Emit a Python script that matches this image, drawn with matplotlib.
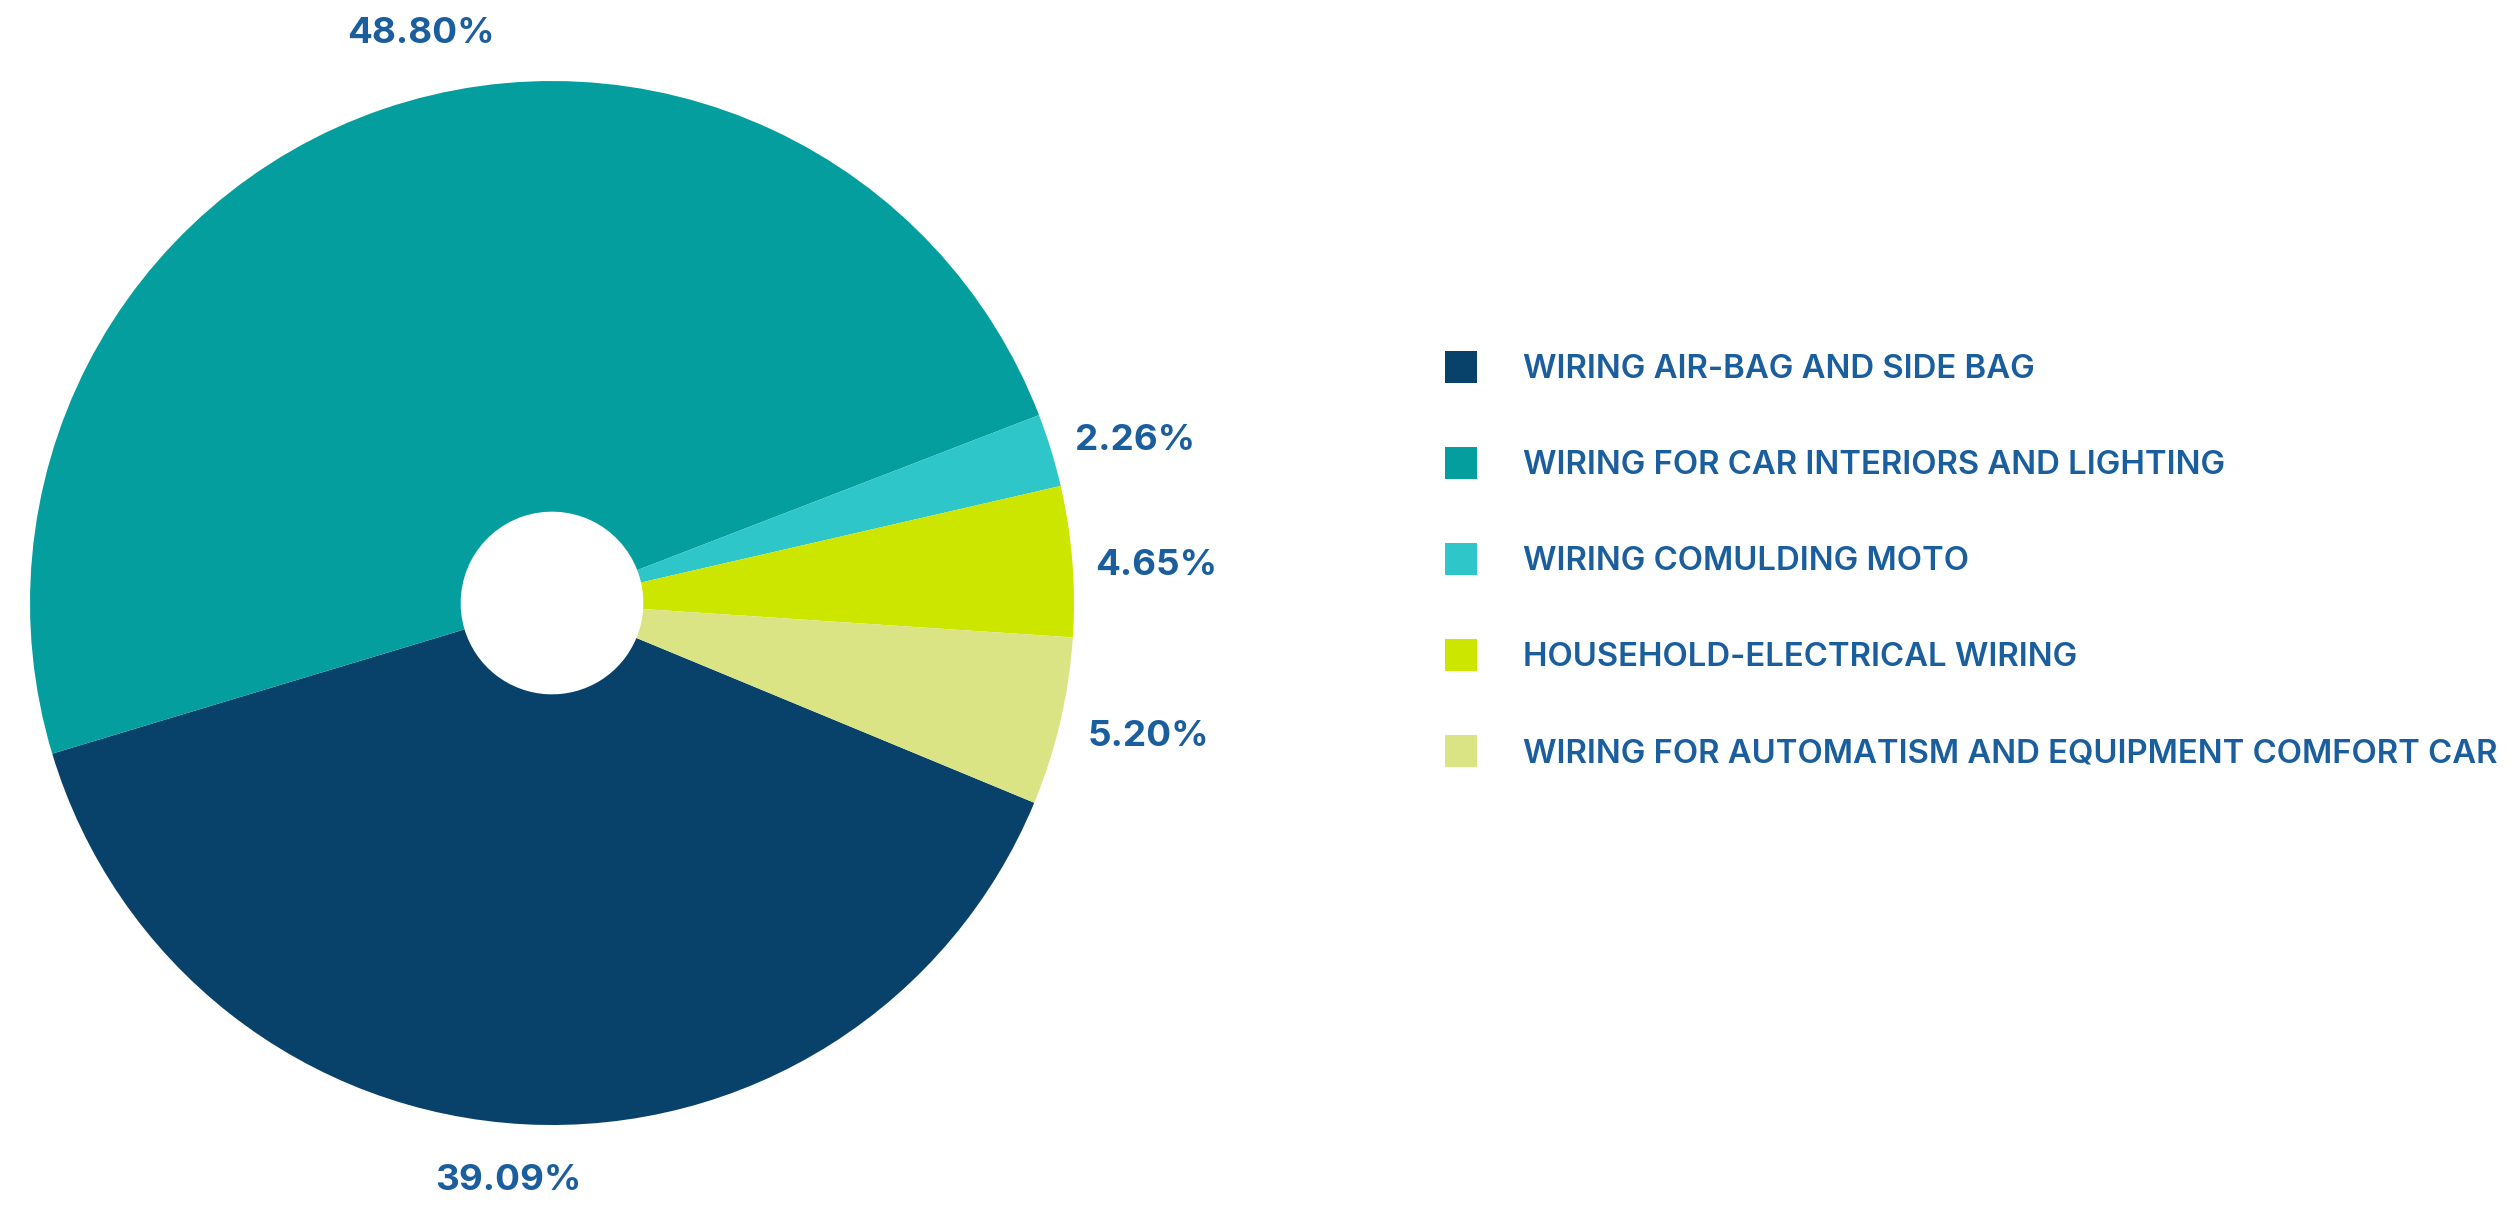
import numpy as np
import matplotlib
matplotlib.use("Agg")
import matplotlib.pyplot as plt

categories = [
    "WIRING AIR-BAG AND SIDE BAG",
    "WIRING FOR CAR INTERIORS AND LIGHTING",
    "WIRING COMULDING MOTO",
    "HOUSEHOLD-ELECTRICAL WIRING",
    "WIRING FOR AUTOMATISM AND EQUIPMENT COMFORT CAR",
]
values = [39.09, 48.80, 2.26, 4.65, 5.20]
pct_labels = ["39.09%", "48.80%", "2.26%", "4.65%", "5.20%"]
colors = ["#08426b", "#039e9d", "#2fc6c9", "#cde600", "#dbe485"]
text_color = "#1a5e9e"

W, H, DPI = 2517, 1211, 100
fig = plt.figure(figsize=(W / DPI, H / DPI), dpi=DPI)
ax = fig.add_axes([0, 0, 1, 1])

cx, cy, R = 552, 603, 522  # pixels from top-left

wedges, _ = ax.pie(values, colors=colors, startangle=-22.5, counterclock=False,
                   radius=1.0, wedgeprops=dict(width=0.825, linewidth=0))
ax.set_aspect("auto")
ax.set_xlim(-cx / R, (W - cx) / R)
ax.set_ylim(-(H - cy) / R, cy / R)
ax.axis("off")

label_font = dict(family=["Inter", "DejaVu Sans"], fontsize=26.5, fontweight="bold",
                  color=text_color, ha="center", va="center")
dist = [1.11, 1.12, 1.16, 1.16, 1.17]
shift = [-1.5, -6.0, -1.5, -1.0, 0.5]
for w, lab, d, s in zip(wedges, pct_labels, dist, shift):
    ang = np.deg2rad((w.theta1 + w.theta2) / 2 + s)
    ax.text(d * np.cos(ang), d * np.sin(ang), lab, **label_font)

leg = ax.legend(wedges, categories, loc="upper left",
                bbox_to_anchor=(1445 / W, 1 - 351 / H), bbox_transform=fig.transFigure,
                frameon=False, borderpad=0, borderaxespad=0,
                handlelength=0.97, handleheight=1.12, handletextpad=1.4,
                labelspacing=1.88, prop=dict(family=["Inter", "DejaVu Sans"], size=23.7, weight="semibold"))
for t in leg.get_texts():
    t.set_color(text_color)

fig.savefig("out.png", dpi=DPI, facecolor="white")
